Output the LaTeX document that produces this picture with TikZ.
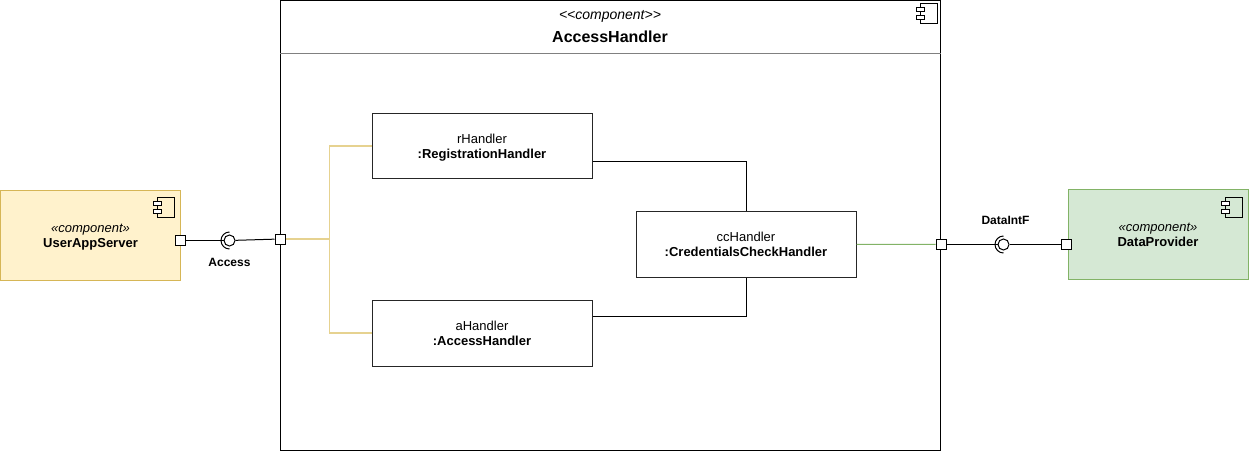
\documentclass[tikz,border=0pt]{standalone}
\usepackage{fontspec}
\setmainfont{Liberation Sans}
\definecolor{serverfill}{HTML}{FFF2CC}
\definecolor{serverline}{HTML}{D6B656}
\definecolor{wireline}{HTML}{E6D290}
\definecolor{providerfill}{HTML}{D5E8D4}
\definecolor{providerline}{HTML}{82B366}
\tikzset{
	comp/.style={draw,line width=1pt,minimum width=#1,minimum height=66pt,inner sep=0pt,align=center,text height=28.5pt,text depth=3pt,font=\fontsize{13}{15}\selectfont},
	port/.style={draw=black,fill=white,line width=1pt,minimum size=10pt,inner sep=0pt},
	ball/.style={circle,draw=black,fill=white,line width=1pt,minimum size=11pt,inner sep=0pt},
	lbl/.style={inner sep=0pt,font=\fontsize{12}{15}\selectfont\bfseries},
}
\newcommand{\compicon}[2]{
	\begin{scope}[shift={(#1,#2)},line width=1pt]
		\draw (4,0) rectangle (21,20);
		\draw[fill=white] (0,4) rectangle (8,8);
		\draw[fill=white] (0,12) rectangle (8,16);
	\end{scope}
}
\begin{document}
\begin{tikzpicture}[x=1pt,y=-1pt]
	\useasboundingbox (0,0) rectangle (1249,452);
	% outer component
	\node[draw,line width=1pt,minimum width=660pt,minimum height=397pt,inner sep=0pt] (body) at (610.5,252) {};
	\node[draw,line width=1pt,minimum width=660pt,minimum height=53pt,inner sep=0pt] (head) at (610.5,27) {};
	\draw[gray,line width=1pt] (head.south west) -- (head.south east);
	\node[inner sep=0pt,font=\fontsize{14}{15}\selectfont\itshape] (stereo) at (610,16) {{<}{<}component{>}{>}};
	\node[inner sep=0pt,font=\fontsize{16}{15}\selectfont\bfseries] (title) at (610,36.5) {AccessHandler};
	\compicon{916}{4}
	% side components
	\node[comp=180pt,draw=serverline,fill=serverfill,minimum height=90pt] (server) at (90.5,235) {\textit{«component»}\\\textbf{UserAppServer}};
	\compicon{153}{197}
	\node[comp=180pt,draw=providerline,fill=providerfill,minimum height=90pt] (provider) at (1158,234) {\textit{«component»}\\\textbf{DataProvider}};
	\compicon{1221}{197}
	% parts
	\begin{scope}[every node/.style={comp=220pt,draw=black!85,fill=white}]
		\node[minimum height=65pt] (rHandler) at (482,146) {rHandler\\\textbf{:RegistrationHandler}};
		\node (aHandler) at (482,333) {aHandler\\\textbf{:AccessHandler}};
		\node (ccHandler) at (746,244) {ccHandler\\\textbf{:CredentialsCheckHandler}};
	\end{scope}
	% ports and interfaces
	\node[port] (serverPort) at (180.5,240.5) {};
	\node[port] (accessPort) at (280,239) {};
	\node[port] (dataPort) at (941,244.5) {};
	\node[port] (providerPort) at (1066.5,244.5) {};
	\node[ball] (accessBall) at (229.5,240.5) {};
	\node[ball] (dataBall) at (1003.5,244.5) {};
	\draw[line width=1pt] ([shift={(0,-8.5)}]accessBall.center) arc[start angle=90,end angle=270,radius=8.5pt];
	\draw[line width=1pt] ([shift={(0,-8.5)}]dataBall.center) arc[start angle=90,end angle=270,radius=8.5pt];
	\node[lbl] (accessLbl) at (229.5,262) {Access};
	\node[lbl] (dataLbl) at (1005.5,220) {DataIntF};
	\coordinate (split) at (329.5,239);
	% connectors
	\begin{scope}[line width=1pt]
		\draw (serverPort) -- (accessBall);
		\draw (accessBall) -- (accessPort);
		\draw (dataPort) -- (dataBall);
		\draw (dataBall) -- (providerPort);
		\draw[wireline,line width=1.5pt] (accessPort) -- (split) |- (rHandler.west);
		\draw[wireline,line width=1.5pt] (split) |- (aHandler.west);
		\draw[providerline] (ccHandler) -- (dataPort);
		\draw ([yshift=-15pt]rHandler.east) -| (ccHandler.north);
		\draw ([yshift=17pt]aHandler.east) -| (ccHandler.south);
	\end{scope}
\end{tikzpicture}
\end{document}
